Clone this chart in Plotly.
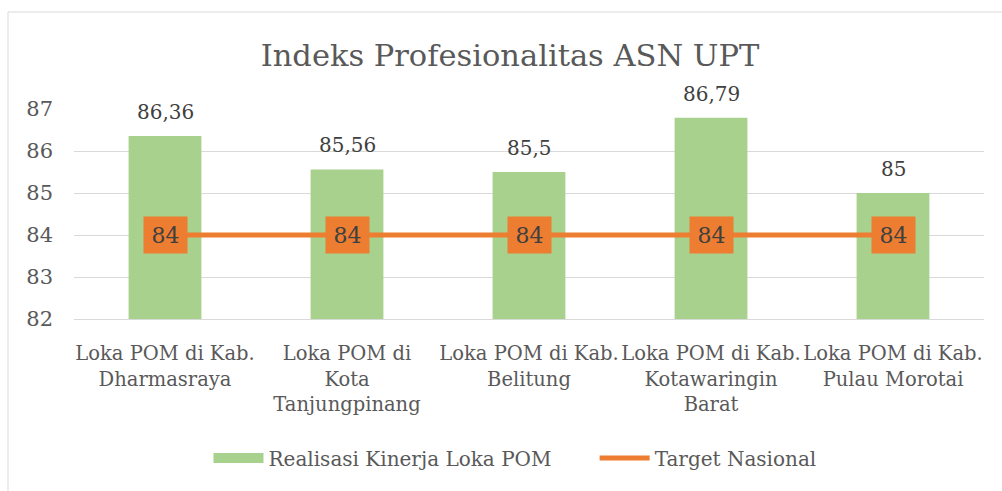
import plotly.graph_objects as go

categories = ["Loka POM di Kab.<br>Dharmasraya", "Loka POM di<br>Kota<br>Tanjungpinang",
              "Loka POM di Kab.<br>Belitung", "Loka POM di Kab.<br>Kotawaringin<br>Barat",
              "Loka POM di Kab.<br>Pulau Morotai"]
realisasi = [86.36, 85.56, 85.5, 86.79, 85]
target = [84, 84, 84, 84, 84]
y_ticks = [82, 83, 84, 85, 86, 87]

FONT = "DejaVu Serif"
TXT = "#595959"

def fmt(v):
    s = ("%.2f" % v).rstrip("0").rstrip(".")
    return s.replace(".", ",")

fig = go.Figure()
fig.add_trace(go.Bar(x=categories, y=realisasi, name="Realisasi Kinerja Loka POM",
                     marker=dict(color="#A9D18E", line=dict(width=0)), width=0.4,
                     showlegend=False))
# legend proxy for the bar series (wide rectangle swatch)
fig.add_trace(go.Scatter(x=[None], y=[None], name="Realisasi Kinerja Loka POM" + "\u00a0" * 6,
                         mode="lines", line=dict(color="#A9D18E", width=12), showlegend=True))
fig.add_trace(go.Scatter(x=categories, y=target, name="Target Nasional", mode="lines",
                         line=dict(color="#ED7D31", width=5)))

annotations = []
for c, v in zip(categories, realisasi):
    annotations.append(dict(x=c, y=v, text=fmt(v), showarrow=False, yanchor="bottom",
                            yshift=10, font=dict(family=FONT, size=20, color="#404040")))
for c, v in zip(categories, target):
    annotations.append(dict(x=c, y=v, text=fmt(v), showarrow=False, bgcolor="#ED7D31",
                            width=43, height=36, borderpad=0,
                            font=dict(family=FONT, size=22, color="#404040")))

fig.update_layout(
    width=1002, height=491,
    margin=dict(l=74, r=18, t=109, b=172, autoexpand=False),
    paper_bgcolor="white", plot_bgcolor="white",
    font=dict(family=FONT, color=TXT),
    title=dict(text="Indeks Profesionalitas ASN UPT", x=0.509, xanchor="center",
               y=1 - 55 / 491, yanchor="middle", font=dict(family=FONT, size=30.5, color=TXT)),
    annotations=annotations,
    showlegend=True,
    legend=dict(orientation="h", x=(515 - 74) / 910, xanchor="center", y=-139 / 210,
                yanchor="middle", font=dict(family=FONT, size=20, color=TXT), itemwidth=50,
                traceorder="normal"),
    shapes=[dict(type="rect", xref="paper", yref="paper",
                 x0=-66 / 910, x1=1 + 40 / 910, y0=-1.0, y1=1 + 97 / 210,
                 line=dict(color="#D9D9D9", width=1), fillcolor="rgba(0,0,0,0)", layer="below")],
)
fig.update_xaxes(showgrid=False, showline=True, linecolor="#D9D9D9", linewidth=1,
                 ticks="", tickfont=dict(family=FONT, size=19.5, color=TXT),
                 ticklabelstandoff=17)
fig.update_yaxes(range=[82, 87], tickvals=y_ticks, showgrid=True, gridcolor="#D9D9D9",
                 gridwidth=1, zeroline=False, showline=False, ticks="",
                 tickfont=dict(family=FONT, size=21, color=TXT), ticklabelstandoff=20)

fig.write_html("out.html", config={"displayModeBar": False},
               post_script="document.body.style.margin='0';document.body.style.overflow='hidden';")
